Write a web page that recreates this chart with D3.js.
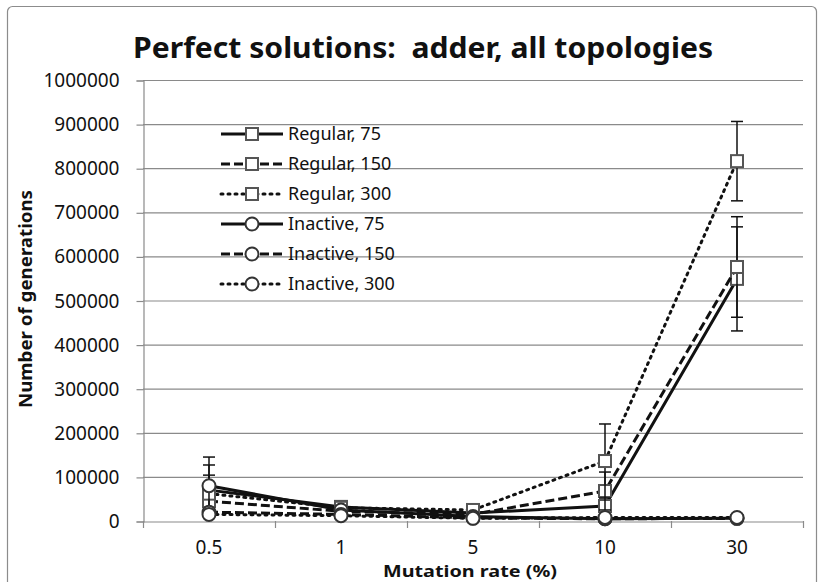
<!DOCTYPE html>
<html>
<head>
	<script src="https://cdn.jsdelivr.net/npm/d3@7"></script>
	<style>
		html, body {
			padding: 0;
			margin: 0;
			background: white;
		}
		text { font-family: "Noto Sans", sans-serif; fill: #111; }
	</style>
</head>
<body>
	<script>
		var width = 828, height = 582;

		// data
		var categories = ["0.5", "1", "5", "10", "30"];
		var yTicks = [0, 100000, 200000, 300000, 400000, 500000, 600000, 700000, 800000, 900000, 1000000];

		var regular75 = [70000, 32000, 18000, 34000, 549000];
		var regular150 = [45000, 22000, 15000, 68000, 576000];
		var regular300 = [62000, 30000, 25000, 136000, 816000];
		var inactive75 = [80000, 25000, 10000, 5000, 6000];
		var inactive150 = [20000, 15000, 7000, 5000, 6000];
		var inactive300 = [15000, 12000, 6000, 8000, 8000];

		var regular75Err = [57000, 8000, 4000, 12000, 118000];
		var regular150Err = [30000, 6000, 4000, 43000, 114000];
		var regular300Err = [42000, 8000, 6000, 84000, 90000];
		var inactive75Err = [65000, 6000, 3000, 2000, 2000];
		var inactive150Err = [8000, 4000, 2000, 2000, 2000];
		var inactive300Err = [6000, 4000, 2000, 2000, 2000];

		var seriesNames = ["Regular, 75", "Regular, 150", "Regular, 300", "Inactive, 75", "Inactive, 150", "Inactive, 300"];
		var seriesValues = [regular75, regular150, regular300, inactive75, inactive150, inactive300];
		var seriesErrors = [regular75Err, regular150Err, regular300Err, inactive75Err, inactive150Err, inactive300Err];
		var seriesDash = ["none", "9,4", "2,5", "none", "9,4", "2,5"];
		var seriesMarker = ["square", "square", "square", "circle", "circle", "circle"];

		var svg = d3.select("body").append("svg")
			.attr("width", width)
			.attr("height", height);

		// outer chart frame
		svg.append("rect")
			.attr("x", 7.5).attr("y", 6.5)
			.attr("width", 809).attr("height", 600)
			.attr("rx", 5)
			.attr("fill", "white")
			.attr("stroke", "#8c8c8c")
			.attr("stroke-width", 1.2);

		var plotLeft = 143, plotRight = 803, plotTop = 80, plotBottom = 521;

		var x = d3.scaleBand().domain(categories).range([plotLeft, plotRight]);
		var y = d3.scaleLinear().domain([0, 1000000]).range([plotBottom, plotTop]);

		// gridlines
		svg.append("g")
			.selectAll("line")
			.data(yTicks.slice(1))
			.enter().append("line")
			.attr("x1", plotLeft).attr("x2", plotRight)
			.attr("y1", function(d) { return y(d) + 0.5; })
			.attr("y2", function(d) { return y(d) + 0.5; })
			.attr("stroke", "#8a8a8a")
			.attr("stroke-width", 1.2);

		// y axis
		var yAxis = svg.append("g")
			.attr("transform", "translate(" + (plotLeft + 0.5) + ",0.5)")
			.call(d3.axisLeft(y).tickValues(yTicks).tickFormat(d3.format("d")).tickSize(7).tickPadding(17));
		yAxis.select(".domain").attr("stroke", "#8a8a8a").attr("stroke-width", 1.2);
		yAxis.selectAll(".tick line").attr("stroke", "#8a8a8a").attr("stroke-width", 1.2);
		yAxis.selectAll(".tick text").style("font-size", "19px").attr("fill", "#111");

		// x axis: labels centred in the bands, ticks on the band edges
		var xAxis = svg.append("g")
			.attr("transform", "translate(0," + (plotBottom + 0.5) + ")")
			.call(d3.axisBottom(x).tickSize(0).tickPadding(19));
		xAxis.select(".domain").attr("stroke", "#8a8a8a").attr("stroke-width", 1.2);
		xAxis.selectAll(".tick text").style("font-size", "19px").attr("fill", "#111");

		var edges = categories.map(function(c) { return x(c); }).concat([x(categories[categories.length - 1]) + x.bandwidth()]);
		svg.append("g")
			.selectAll("line")
			.data(edges)
			.enter().append("line")
			.attr("x1", function(d) { return d + 0.5; })
			.attr("x2", function(d) { return d + 0.5; })
			.attr("y1", plotBottom).attr("y2", plotBottom + 7)
			.attr("stroke", "#8a8a8a")
			.attr("stroke-width", 1.2);

		// titles
		svg.append("text")
			.attr("x", 423).attr("y", 58)
			.attr("text-anchor", "middle")
			.attr("textLength", 580)
			.attr("lengthAdjust", "spacingAndGlyphs")
			.style("white-space", "pre")
			.style("font-size", "29px")
			.style("font-weight", "bold")
			.text("Perfect solutions:  adder, all topologies");

		svg.append("text")
			.attr("transform", "translate(32,299) rotate(-90)")
			.attr("text-anchor", "middle")
			.attr("textLength", 218)
			.attr("lengthAdjust", "spacingAndGlyphs")
			.style("font-size", "17px")
			.style("font-weight", "bold")
			.text("Number of generations");

		svg.append("text")
			.attr("x", 470).attr("y", 577)
			.attr("text-anchor", "middle")
			.attr("textLength", 174)
			.attr("lengthAdjust", "spacingAndGlyphs")
			.style("font-size", "16.5px")
			.style("font-weight", "bold")
			.text("Mutation rate (%)");

		// series
		var cx = function(i) { return x(categories[i]) + x.bandwidth() / 2; };
		var line = d3.line()
			.x(function(d, i) { return cx(i); })
			.y(function(d) { return y(d); });

		function drawMarker(g, type, px, py) {
			if (type === "square") {
				g.append("rect")
					.attr("x", px - 6).attr("y", py - 6)
					.attr("width", 12).attr("height", 12)
					.attr("fill", "white")
					.attr("stroke", "#555")
					.attr("stroke-width", 2);
			} else {
				g.append("circle")
					.attr("cx", px).attr("cy", py)
					.attr("r", 6.5)
					.attr("fill", "white")
					.attr("stroke", "#333")
					.attr("stroke-width", 2);
			}
		}

		seriesValues.forEach(function(vals, s) {
			var g = svg.append("g");
			g.append("path")
				.datum(vals)
				.attr("d", line)
				.attr("fill", "none")
				.attr("stroke", "#111")
				.attr("stroke-width", 3)
				.attr("stroke-dasharray", seriesDash[s] === "none" ? null : seriesDash[s])
				.attr("stroke-linecap", seriesDash[s] === "2,5" ? "round" : "butt");

			// error bars
			vals.forEach(function(v, i) {
				var e = seriesErrors[s][i];
				var px = cx(i);
				var eb = g.append("g").attr("stroke", "#111").attr("stroke-width", 1.5);
				eb.append("line").attr("x1", px).attr("x2", px)
					.attr("y1", y(v + e)).attr("y2", y(Math.max(0, v - e)));
				eb.append("line").attr("x1", px - 6).attr("x2", px + 6)
					.attr("y1", y(v + e)).attr("y2", y(v + e));
				eb.append("line").attr("x1", px - 6).attr("x2", px + 6)
					.attr("y1", y(Math.max(0, v - e))).attr("y2", y(Math.max(0, v - e)));
			});

			vals.forEach(function(v, i) {
				drawMarker(g, seriesMarker[s], cx(i), y(v));
			});
		});

		// legend
		var legend = svg.append("g").attr("transform", "translate(221,134)");
		seriesNames.forEach(function(name, s) {
			var row = legend.append("g").attr("transform", "translate(0," + (s * 30) + ")");
			row.append("line")
				.attr("x1", 0).attr("x2", 62)
				.attr("stroke", "#111")
				.attr("stroke-width", 3)
				.attr("stroke-dasharray", seriesDash[s] === "none" ? null : seriesDash[s])
				.attr("stroke-linecap", seriesDash[s] === "2,5" ? "round" : "butt");
			drawMarker(row, seriesMarker[s], 31, 0);
			row.append("text")
				.attr("x", 67).attr("y", 6)
				.style("font-size", "18px")
				.text(name);
		});
	</script>
</body>
</html>
